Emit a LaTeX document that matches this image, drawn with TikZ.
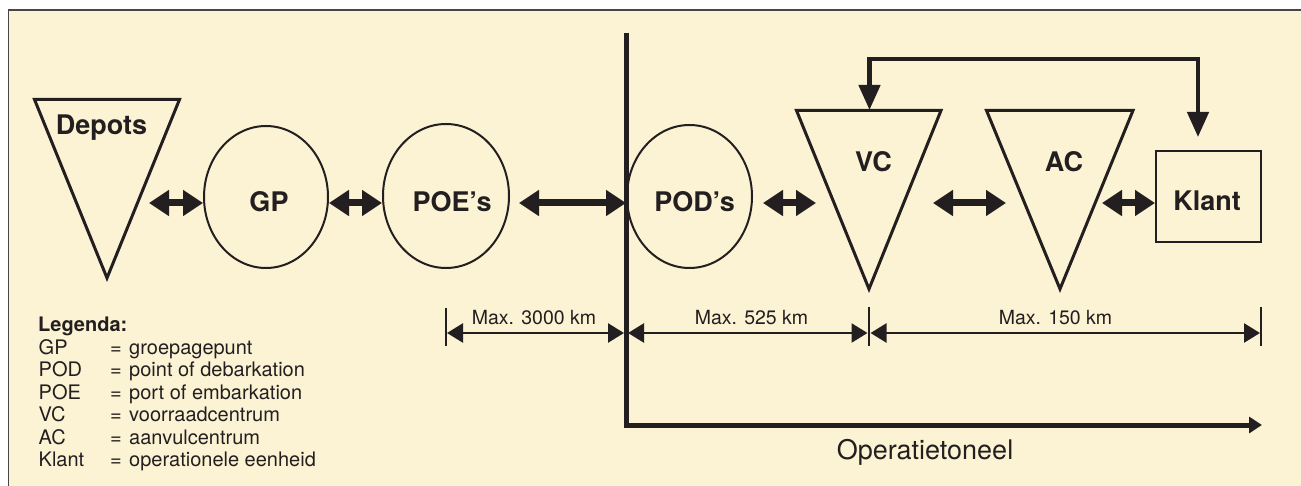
\documentclass[tikz,border=0pt]{standalone}
\usepackage{fontspec}
\setmainfont{TeX Gyre Heros}
\usetikzlibrary{arrows.meta,shapes.geometric}
\definecolor{bg}{RGB}{252,243,212}
\definecolor{ink}{RGB}{35,31,32}
\definecolor{framec}{RGB}{70,70,70}
\begin{document}
\begin{tikzpicture}[x=1pt,y=-1pt,line join=miter,
  bigtxt/.style={font=\fontsize{27}{30}\selectfont\bfseries,text=ink,inner sep=0pt,anchor=base},
  dimtxt/.style={font=\fontsize{19.5}{22}\selectfont,text=ink,inner sep=0pt,anchor=base},
  lgtxt/.style={font=\fontsize{20}{22.5}\selectfont,text=ink,inner sep=0pt,anchor=base west},
  tri/.style={draw=ink,line width=3pt},
  oval/.style={ellipse,draw=ink,line width=2pt,inner sep=0pt},
  dbl/.style={draw=ink,line width=7pt,{Triangle[length=20pt,width=25pt]}-{Triangle[length=20pt,width=25pt]}},
  fb/.style={draw=ink,line width=4.5pt,{Triangle[length=25pt,width=21pt]}-{Triangle[length=25pt,width=21pt]}},
  dimarr/.style={draw=ink,line width=2.5pt,{Triangle[length=16pt,width=19pt]}-{Triangle[length=16pt,width=19pt]}},
  tick/.style={draw=ink,line width=2.5pt},
  theatre/.style={draw=ink,line width=5pt,-{Triangle[length=13pt,width=16pt]}}
]
\useasboundingbox (0,0) rectangle (1301,486);
% background and frame
\fill[bg] (8.5,10) rectangle (1301,486);
\draw[framec,line width=1.5pt] (8.5,486) -- (8.5,10) -- (1301,10);

% triangles
\coordinate (depA) at (34.5,99.5); \coordinate (depB) at (179.5,99.5); \coordinate (depC) at (107,278);
\draw[tri] (depA) -- (depB) -- (depC) -- cycle;
\coordinate (vcA) at (796.5,110.5); \coordinate (vcB) at (941,110.5); \coordinate (vcC) at (869,289);
\draw[tri] (vcA) -- (vcB) -- (vcC) -- cycle;
\coordinate (acA) at (986.5,110.5); \coordinate (acB) at (1133,110.5); \coordinate (acC) at (1060,289);
\draw[tri] (acA) -- (acB) -- (acC) -- cycle;

% ellipses and box
\node[oval,minimum width=124pt,minimum height=142pt] (gp) at (266,197) {};
\node[oval,minimum width=126pt,minimum height=144pt] (poe) at (446,196) {};
\node[oval,minimum width=125pt,minimum height=143pt] (pod) at (689.5,196.5) {};
\node[draw=ink,line width=2pt,minimum width=105pt,minimum height=91pt,inner sep=0pt] (klant) at (1208.5,196.5) {};

% labels
\node[bigtxt] (tdep) at (101.5,135) {Depots};
\node[bigtxt] (tgp) at (269,211.5) {GP};
\node[bigtxt] (tpoe) at (452,211.5) {POE’s};
\node[bigtxt] (tpod) at (694.5,211.5) {POD’s};
\node[bigtxt] (tvc) at (873.5,172) {VC};
\node[bigtxt] (tac) at (1064,172) {AC};
\node[bigtxt] (tkl) at (1207,211) {Klant};

% theatre line
\coordinate (vtop) at (626,33);
\coordinate (vbot) at (626,425);
\coordinate (hend) at (1262,425);
\draw[theatre] (vtop) -- (vbot) -- (hend);
\node[font=\fontsize{27}{30}\selectfont,text=ink,inner sep=0pt,anchor=base] (op) at (925,459) {Operatietoneel};

% double arrows
\coordinate (a1) at (149,203);
\draw[dbl] (a1) -- (a1 -| gp.west);
\coordinate (a2) at (gp.east |- a1);
\draw[dbl] (a2) -- (a2 -| poe.west);
\coordinate (a3) at (519,203);
\draw[dbl] (a3) -- (a3 -| vtop);
\coordinate (a4s) at (763,203); \coordinate (a4e) at (816,203);
\draw[dbl] (a4s) -- (a4e);
\coordinate (a5s) at (933,203); \coordinate (a5e) at (1006,203);
\draw[dbl] (a5s) -- (a5e);
\coordinate (a6s) at (1102,203);
\draw[dbl] (a6s) -- (a6s -| klant.west);

% feedback arrow
\coordinate (fbA) at (869.5,110);
\coordinate (fbB) at (869.5,59);
\coordinate (fbC) at (1198,59);
\coordinate (fbD) at (1198,137);
\draw[fb] (fbA) -- (fbB) -- (fbC) -- (fbD);

% dimension lines
\coordinate (d0) at (446,333);
\coordinate (d1) at (869,333);
\coordinate (d2) at (1261,333);
\draw[tick] (446,308) -- (446,346);
\draw[tick] (869,307) -- (869,346);
\draw[tick] (1261,307) -- (1261,346);
\draw[dimarr] (447,333) -- (624,333);
\draw[dimarr] (628,333) -- (867.5,333);
\draw[dimarr] (870.5,333) -- (1260,333);
\node[dimtxt] (m1) at (534,324) {Max. 3000 km};
\node[dimtxt] (m2) at (751.5,324) {Max. 525 km};
\node[dimtxt] (m3) at (1055.5,324) {Max. 150 km};

% legend
\node[lgtxt,font=\fontsize{20}{22.5}\selectfont\bfseries] (leg) at (38,331.8) {Legenda:};
\foreach \ab/\df [count=\i] in {GP/groepagepunt,POD/point of debarkation,POE/port of embarkation,VC/voorraadcentrum,AC/aanvulcentrum,Klant/operationele eenheid}{
  \pgfmathsetmacro\yy{331.8+22.45*\i}
  \node[lgtxt] (ab\i) at (38.5,\yy) {\ab};
  \node[lgtxt] (eq\i) at (110,\yy) {=};
  \node[lgtxt] (df\i) at (129,\yy) {\df};
}
\end{tikzpicture}
\end{document}
